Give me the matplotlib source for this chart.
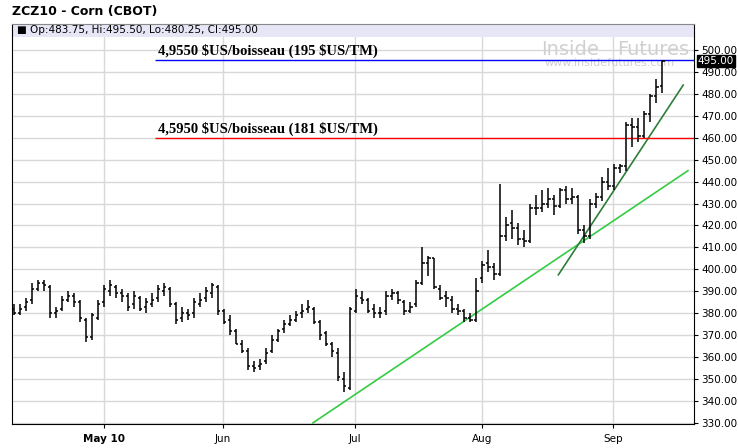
import matplotlib
matplotlib.use("Agg")
import matplotlib.pyplot as plt
import numpy as np

# daily OHLC bars, ZCZ10 corn, Apr 19 - Sep 10 2010
opens = [382,380,383,386,391,394,392,380,382,386,388,385,377,369,378,385,390,392,389,388,384,387,383,384,387,390,391,384,378,380,380,384,387,389,392,
         381,377,372,366,363,356,356,358,363,368,373,375,377,380,382,382,376,371,366,362,350,346,
         381,387,386,382,380,381,388,389,385,381,384,394,403,405,391,388,386,382,381,378,377,
         396,403,401,398,415,421,419,414,413,428,428,430,432,429,436,432,433,418,415,430,433,440,
         438,446,447,466,465,461,471,479,483.75]
closes = [380,382,385,391,394,393,380,381,386,388,385,378,369,379,384,391,393,389,388,383,388,382,385,386,391,392,384,377,380,379,385,386,390,393,381,
          376,372,366,363,356,355,357,362,368,372,375,377,379,381,383,376,370,366,363,351,347,382,
          388,386,381,380,380,388,389,386,381,383,394,403,405,392,387,387,382,381,378,377,390,
          402,401,398,415,420,419,414,413,428,428,430,432,429,436,432,433,418,415,430,433,440,438,
          446,447,466,465,461,471,479,483,495]
highs = [384,384,387,394,395,395,393,383,388,390,389,386,378,380,386,393,395,393,391,389,390,388,387,389,393,394,392,385,383,382,387,389,392,394,393,
         382,379,373,368,364,358,359,364,370,373,377,379,381,384,386,383,377,372,367,364,353,383,
         391,390,387,384,383,390,391,390,386,385,395,410,406,405,393,390,388,384,382,380,396,
         404,409,403,439,424,427,421,418,430,434,436,437,434,437,438,437,434,420,432,435,442,446,
         448,448,467,469,469,472,480,487,495.5]
lows = [379,379,381,384,390,390,378,378,381,385,383,376,367,368,377,383,388,387,385,381,382,381,380,383,385,388,383,375,376,377,378,383,385,387,379,
        375,370,366,362,354,353,354,357,362,367,371,374,376,378,380,375,368,365,360,349,344,345,
        380,384,380,378,378,379,386,384,379,380,383,393,397,391,386,383,380,379,376,376,376,
        394,399,395,397,413,414,411,410,412,425,426,428,425,428,430,430,416,412,414,428,431,436,
        436,444,445,456,458,460,467,476,480.25]

month_labels = ["May 10", "Jun", "Jul", "Aug", "Sep"]
month_pos = [15, 34.8, 56.8, 78, 99.8]
y_ticks = [330, 340, 350, 360, 370, 380, 390, 400, 410, 420, 430, 440, 450, 460, 470, 480, 490, 500]

# support / resistance drawings
long_trend = ([49.8, 112.3], [330, 445])
short_trend = ([90.7, 111.5], [397.5, 484])
level_hi = 495.5
level_lo = 460.0
label_hi = "4,9550 \\$US/boisseau (195 \\$US/TM)"
label_lo = "4,5950 \\$US/boisseau (181 \\$US/TM)"

fig = plt.figure(figsize=(7.38, 4.48), dpi=100, facecolor="white")
ax = fig.add_axes([12/738, 24/448, 682/738, 400/448])

n = len(closes)
x = np.arange(n)
ymin, ymax = 329.5, 511.85
xmax = 113.3
ax.set_xlim(-0.33, xmax)
ax.set_ylim(ymin, ymax)

# grid
for p in month_pos:
    ax.axvline(p, color="#d8d8d8", lw=1, zorder=0)
for t in y_ticks:
    ax.axhline(t, color="#d8d8d8", lw=1, zorder=0)

# header band
ax.axhspan(505.9, ymax, color="#e6e6f7", zorder=1, lw=0)
ax.text(0.5, 508.9, "\u25a0 Op:483.75, Hi:495.50, Lo:480.25, Cl:495.00",
        fontsize=7.5, va="center", ha="left", color="black", zorder=5)

# watermark
ax.text(97.5, 500.3, "Inside", fontsize=14, color="#d0d0d0", ha="right", va="center", zorder=1)
ax.text(100.5, 500.3, "Futures", fontsize=14, color="#d0d0d0", ha="left", va="center", zorder=1)
ax.text(99.3, 494.0, "www.insidefutures.com", fontsize=8, color="#d0d0d0", ha="center", va="center", zorder=1)

# OHLC bars
w = 0.4
ax.vlines(x, lows, highs, color="black", lw=1.1, zorder=3)
ax.hlines(opens, x - w, x, color="black", lw=1.1, zorder=3)
ax.hlines(closes, x, x + w, color="black", lw=1.1, zorder=3)

# trend lines
ax.plot(*long_trend, color="#33cc44", lw=1.2, zorder=2)
ax.plot(*short_trend, color="#2e7d3a", lw=1.2, zorder=2)

# horizontal levels
ax.hlines(level_hi, 23.5, xmax, color="#0000ff", lw=1, zorder=2)
ax.hlines(level_lo, 23.5, xmax, color="#ff0000", lw=1, zorder=2)
ax.text(24, level_hi + 0.8, label_hi, fontsize=10.5, fontweight="bold",
        family="Liberation Serif", va="bottom", ha="left", zorder=4)
ax.text(24, level_lo + 0.8, label_lo, fontsize=10.5, fontweight="bold",
        family="Liberation Serif", va="bottom", ha="left", zorder=4)

# axes styling
ax.yaxis.tick_right()
ax.set_yticks(y_ticks)
ax.set_yticklabels([f"{t:.2f}" for t in y_ticks], fontsize=7.5)
ax.tick_params(axis="y", length=3, pad=2)
ax.set_xticks(month_pos)
ax.set_xticklabels(month_labels, fontsize=7.5)
ax.get_xticklabels()[0].set_fontweight("bold")
ax.tick_params(axis="x", length=3, pad=4)
for s in ["left", "bottom", "right"]:
    ax.spines[s].set_color("black")
ax.spines["top"].set_color("#888888")

# last price marker
ax.text(xmax + 0.6, closes[-1], f"{closes[-1]:.2f}", fontsize=7.5, color="white", va="center", ha="left",
        bbox=dict(boxstyle="square,pad=0.1", fc="black", ec="black"), clip_on=False, zorder=6)

fig.text(12/738, 1 - 12/448, "ZCZ10 - Corn (CBOT)", fontsize=9, fontweight="bold", va="center", ha="left")

fig.savefig("out.png", dpi=100, facecolor="white")
